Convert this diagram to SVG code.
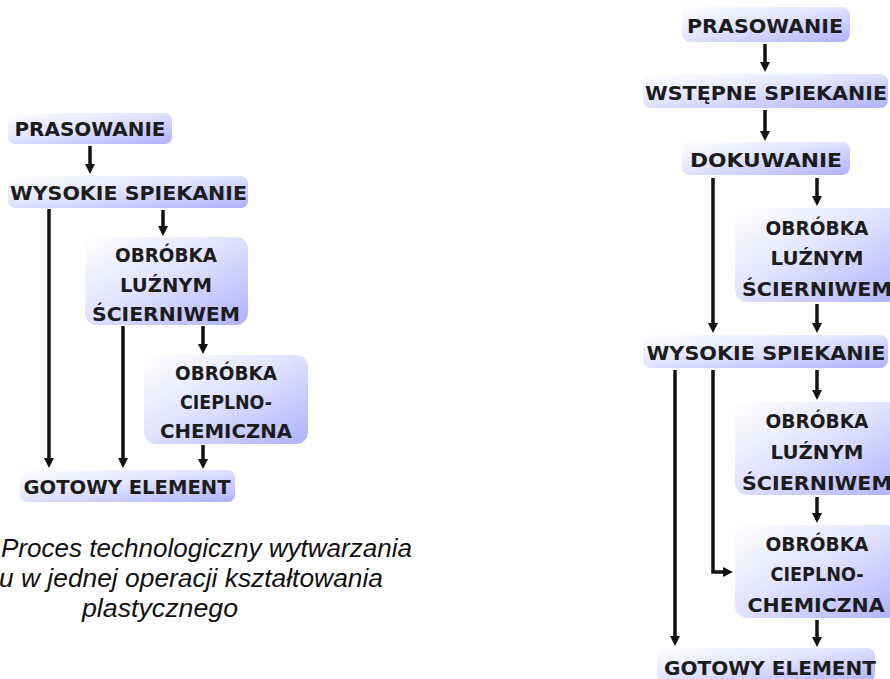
<svg xmlns="http://www.w3.org/2000/svg" width="890" height="679" viewBox="0 0 890 679">
  <defs>
    <linearGradient id="boxFill" x1="0" y1="0" x2="1" y2="1">
      <stop offset="0" stop-color="#ffffff"/>
      <stop offset="0.45" stop-color="#e2e4ff"/>
      <stop offset="1" stop-color="#aeb2fa"/>
    </linearGradient>
    <marker id="head" viewBox="0 0 10 10" refX="0" refY="5" markerWidth="10" markerHeight="10" markerUnits="userSpaceOnUse" orient="auto">
      <path d="M0,0 L10,5 L0,10 z" fill="#111"/>
    </marker>
    <style>
      .box { fill: url(#boxFill); }
      .lbl { font-family: "DejaVu Sans", "Noto Sans", sans-serif; font-weight: bold; font-size: 20px; fill: #1c1c1c; text-anchor: middle; }
      .conn path { fill: none; stroke: #111; stroke-width: 3.5; }
      .conn path.arrow { marker-end: url(#head); }
      .cap { font-family: "Liberation Sans", Arial, sans-serif; font-style: italic; font-size: 26px; fill: #111; }
    </style>
  </defs>
  <rect width="890" height="679" fill="#ffffff"/>

  <!-- left flow: single shaping operation -->
  <g id="l-prasowanie">
    <rect class="box" x="8" y="113" width="164" height="31" rx="7"/>
    <text class="lbl" x="90" y="136" textLength="151" lengthAdjust="spacingAndGlyphs">PRASOWANIE</text>
  </g>
  <g id="l-wysokie">
    <rect class="box" x="8" y="176" width="240" height="32" rx="7"/>
    <text class="lbl" x="128.5" y="200" textLength="237" lengthAdjust="spacingAndGlyphs">WYSOKIE SPIEKANIE</text>
  </g>
  <g id="l-obrobka-luznym">
    <rect class="box" x="85" y="237" width="163" height="88" rx="12"/>
    <text class="lbl" x="166" y="262" textLength="102" lengthAdjust="spacingAndGlyphs">OBRÓBKA</text>
    <text class="lbl" x="166" y="292" textLength="92" lengthAdjust="spacingAndGlyphs">LUŹNYM</text>
    <text class="lbl" x="166" y="321" textLength="148" lengthAdjust="spacingAndGlyphs">ŚCIERNIWEM</text>
  </g>
  <g id="l-obrobka-cieplno">
    <rect class="box" x="144" y="355" width="164" height="89" rx="12"/>
    <text class="lbl" x="226" y="380" textLength="102" lengthAdjust="spacingAndGlyphs">OBRÓBKA</text>
    <text class="lbl" x="226" y="409" textLength="92" lengthAdjust="spacingAndGlyphs">CIEPLNO-</text>
    <text class="lbl" x="226" y="438" textLength="132" lengthAdjust="spacingAndGlyphs">CHEMICZNA</text>
  </g>
  <g id="l-gotowy">
    <rect class="box" x="20" y="470" width="215" height="32" rx="7"/>
    <text class="lbl" x="127" y="494" textLength="207" lengthAdjust="spacingAndGlyphs">GOTOWY ELEMENT</text>
  </g>

  <!-- caption -->
  <g id="caption">
    <text class="cap" x="1" y="557" textLength="411" lengthAdjust="spacingAndGlyphs">Proces technologiczny wytwarzania</text>
    <text class="cap" x="-1" y="587" textLength="384" lengthAdjust="spacingAndGlyphs">u w jednej operacji kształtowania</text>
    <text class="cap" x="82" y="617" textLength="156" lengthAdjust="spacingAndGlyphs">plastycznego</text>
  </g>

  <!-- right flow: with sizing step -->
  <g id="r-prasowanie">
    <rect class="box" x="682" y="7" width="168" height="35" rx="8"/>
    <text class="lbl" x="765" y="33" textLength="156" lengthAdjust="spacingAndGlyphs">PRASOWANIE</text>
  </g>
  <g id="r-wstepne">
    <rect class="box" x="643" y="74" width="245" height="34" rx="8"/>
    <text class="lbl" x="766" y="100" textLength="242" lengthAdjust="spacingAndGlyphs">WSTĘPNE SPIEKANIE</text>
  </g>
  <g id="r-dokuwanie">
    <rect class="box" x="682" y="142" width="168" height="33" rx="8"/>
    <text class="lbl" x="766" y="167" textLength="152" lengthAdjust="spacingAndGlyphs">DOKUWANIE</text>
  </g>
  <g id="r-obrobka-luznym-1">
    <rect class="box" x="735" y="208" width="165" height="94" rx="12"/>
    <text class="lbl" x="817" y="235" textLength="103" lengthAdjust="spacingAndGlyphs">OBRÓBKA</text>
    <text class="lbl" x="817" y="265" textLength="93" lengthAdjust="spacingAndGlyphs">LUŹNYM</text>
    <text class="lbl" x="817" y="296" textLength="150" lengthAdjust="spacingAndGlyphs">ŚCIERNIWEM</text>
  </g>
  <g id="r-wysokie">
    <rect class="box" x="643" y="335" width="245" height="33" rx="8"/>
    <text class="lbl" x="766" y="360" textLength="239" lengthAdjust="spacingAndGlyphs">WYSOKIE SPIEKANIE</text>
  </g>
  <g id="r-obrobka-luznym-2">
    <rect class="box" x="735" y="402" width="165" height="93" rx="12"/>
    <text class="lbl" x="817" y="428" textLength="103" lengthAdjust="spacingAndGlyphs">OBRÓBKA</text>
    <text class="lbl" x="817" y="459" textLength="93" lengthAdjust="spacingAndGlyphs">LUŹNYM</text>
    <text class="lbl" x="817" y="490" textLength="150" lengthAdjust="spacingAndGlyphs">ŚCIERNIWEM</text>
  </g>
  <g id="r-obrobka-cieplno">
    <rect class="box" x="735" y="525" width="165" height="93" rx="12"/>
    <text class="lbl" x="817" y="551" textLength="103" lengthAdjust="spacingAndGlyphs">OBRÓBKA</text>
    <text class="lbl" x="817" y="581" textLength="93" lengthAdjust="spacingAndGlyphs">CIEPLNO-</text>
    <text class="lbl" x="816" y="612" textLength="137" lengthAdjust="spacingAndGlyphs">CHEMICZNA</text>
  </g>
  <g id="r-gotowy">
    <rect class="box" x="657" y="648" width="218" height="34" rx="8"/>
    <text class="lbl" x="770" y="675" textLength="212" lengthAdjust="spacingAndGlyphs">GOTOWY ELEMENT</text>
  </g>

  <!-- connectors (line end + 10px head = tip) -->
  <g id="connectors" class="conn">
    <path class="arrow" d="M90,146 V164"/>
    <path class="arrow" d="M163,210 V226"/>
    <path class="arrow" d="M49,209 V458"/>
    <path class="arrow" d="M123,326 V458"/>
    <path class="arrow" d="M203,326 V344"/>
    <path class="arrow" d="M203,445 V459"/>

    <path class="arrow" d="M765,44 V62"/>
    <path class="arrow" d="M765,110 V131"/>
    <path class="arrow" d="M817,178 V196"/>
    <path class="arrow" d="M713,178 V323"/>
    <path class="arrow" d="M817,304 V323"/>
    <path class="arrow" d="M675,370 V636"/>
    <path class="arrow" d="M713,370 V572 H723"/>
    <path class="arrow" d="M817,370 V390"/>
    <path class="arrow" d="M817,497 V513"/>
    <path class="arrow" d="M817,620 V637"/>
  </g>
</svg>
